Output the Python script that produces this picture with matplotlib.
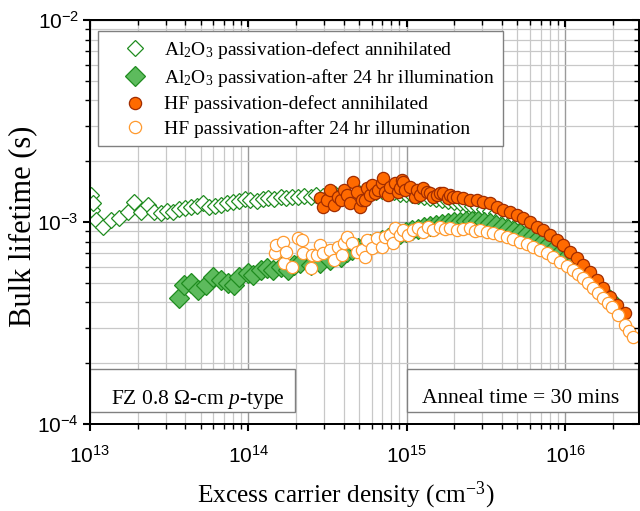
import numpy as np
import matplotlib
matplotlib.use('Agg')
import matplotlib.pyplot as plt
from matplotlib.patches import Rectangle

plt.rcParams['font.family'] = 'Liberation Serif'
plt.rcParams['mathtext.fontset'] = 'custom'
plt.rcParams['mathtext.rm'] = 'Liberation Serif'
plt.rcParams['mathtext.it'] = 'Liberation Serif:italic'
plt.rcParams['axes.unicode_minus'] = False

# --- data (x: excess carrier density cm^-3, tau: bulk lifetime in ms) ---
al_ann_x = [1.015e13, 1.03e13, 1.045e13, 1.09e13, 1.21e13, 1.36e13, 1.52e13, 1.74e13, 1.89e13, 2.10e13,
            2.32e13, 2.53e13,
            2.80e13, 3.06e13, 3.33e13, 3.64e13, 3.97e13, 4.33e13, 4.72e13, 5.15e13, 5.62e13, 6.13e13,
            6.69e13, 7.30e13, 7.96e13, 8.69e13, 9.48e13, 1.03e14, 1.13e14, 1.23e14, 1.34e14, 1.46e14,
            1.60e14, 1.74e14, 1.90e14, 2.07e14, 2.26e14, 2.47e14, 2.69e14, 2.94e14, 3.21e14, 3.50e14,
            3.82e14, 4.16e14, 4.54e14, 4.95e14, 5.40e14, 5.90e14, 6.44e14, 7.02e14, 7.66e14, 8.36e14,
            9.12e14, 9.95e14, 1.08e15, 1.18e15, 1.29e15, 1.41e15, 1.54e15, 1.68e15, 1.83e15, 2.00e15,
            2.18e15, 2.38e15, 2.59e15, 2.83e15, 3.08e15, 3.36e15, 3.67e15, 4.00e15, 4.37e15, 4.76e15,
            5.20e15, 5.67e15, 6.18e15, 6.75e15, 7.36e15, 8.03e15, 8.76e15, 9.56e15, 1.04e16, 1.14e16,
            1.24e16, 1.35e16, 1.48e16, 1.61e16, 1.76e16, 1.92e16]
al_ann_tau = [1.36, 1.146, 1.242, 1.023, 0.945, 1.023, 1.047, 1.121, 1.256, 1.121,
              1.214, 1.121,
              1.108, 1.134, 1.121, 1.160, 1.173, 1.186, 1.200, 1.242, 1.186, 1.200,
              1.214, 1.242, 1.256, 1.270, 1.300, 1.285, 1.270, 1.300, 1.315, 1.300,
              1.330, 1.315, 1.330, 1.330, 1.345, 1.330, 1.360, 1.345, 1.360, 1.376,
              1.376, 1.392, 1.392, 1.408, 1.408, 1.408, 1.408, 1.424, 1.408, 1.408,
              1.376, 1.376, 1.360, 1.345, 1.330, 1.315, 1.300, 1.285, 1.270, 1.256,
              1.242, 1.228, 1.200, 1.186, 1.160, 1.134, 1.108, 1.083, 1.059, 1.035,
              1.011, 0.977, 0.934, 0.883, 0.843, 0.796, 0.760, 0.718, 0.679, 0.634,
              0.592, 0.553, 0.516, 0.477, 0.440, 0.411]

al_ill_x = [3.64e13, 3.91e13, 4.33e13, 4.79e13, 5.38e13, 5.96e13, 6.69e13, 7.41e13, 8.08e13, 8.69e13,
            9.90e13, 1.076e14, 1.197e14, 1.32e14, 1.44e14, 1.60e14, 1.77e14, 1.93e14, 2.13e14, 2.47e14,
            2.85e14, 3.30e14, 3.82e14, 4.22e14, 4.54e14, 4.95e14, 5.40e14, 5.90e14, 6.44e14, 7.02e14,
            7.66e14, 8.36e14, 9.12e14, 9.95e14, 1.08e15, 1.18e15, 1.29e15, 1.41e15, 1.54e15, 1.68e15,
            1.83e15, 2.00e15, 2.18e15, 2.38e15, 2.59e15, 2.83e15, 3.08e15, 3.36e15, 3.67e15, 4.00e15,
            4.37e15, 4.76e15, 5.20e15, 5.67e15, 6.18e15, 6.75e15, 7.36e15, 8.03e15, 8.76e15, 9.56e15,
            1.04e16, 1.14e16, 1.24e16, 1.35e16, 1.48e16, 1.61e16, 1.76e16, 1.92e16]
al_ill_tau = [0.421, 0.488, 0.499, 0.460, 0.488, 0.535, 0.516, 0.499, 0.488, 0.535,
              0.559, 0.547, 0.578, 0.592, 0.578, 0.598, 0.578, 0.612, 0.627, 0.612,
              0.627, 0.649, 0.671, 0.710, 0.726, 0.743, 0.760, 0.778, 0.796, 0.814,
              0.833, 0.852, 0.873, 0.892, 0.913, 0.923, 0.945, 0.955, 0.966, 0.977,
              0.989, 1.000, 1.000, 1.011, 1.011, 1.011, 1.000, 0.989, 0.966, 0.945,
              0.923, 0.902, 0.882, 0.863, 0.843, 0.824, 0.805, 0.787, 0.752, 0.718,
              0.679, 0.634, 0.592, 0.553, 0.516, 0.477, 0.440, 0.411]

hf_ann_x = [2.85e14, 2.98e14, 3.16e14, 3.30e14, 3.45e14, 3.66e14, 3.82e14, 3.99e14, 4.22e14, 4.41e14,
            4.61e14, 4.88e14, 5.10e14, 5.25e14, 5.48e14, 5.64e14, 5.90e14, 6.07e14, 6.34e14, 6.63e14,
            7.02e14, 7.12e14, 7.33e14, 7.66e14, 7.89e14, 8.48e14, 8.86e14, 9.12e14, 9.39e14, 9.53e14,
            9.81e14, 1.054e15, 1.13e15, 1.16e15, 1.21e15, 1.27e15, 1.35e15, 1.41e15, 1.47e15, 1.56e15,
            1.63e15, 1.70e15, 1.81e15, 1.88e15, 1.97e15, 2.09e15, 2.28e15, 2.52e15, 2.78e15, 3.04e15,
            3.36e15, 3.72e15, 4.06e15, 4.50e15, 4.97e15, 5.43e15, 6.01e15, 6.64e15, 7.26e15, 8.03e15,
            8.89e15, 9.70e15, 1.07e16, 1.19e16, 1.30e16, 1.43e16, 1.59e16, 1.73e16, 1.92e16, 2.12e16,
            2.38e16]
hf_ann_tau = [1.315, 1.186, 1.285, 1.440, 1.214, 1.330, 1.285, 1.440, 1.360, 1.242,
              1.578, 1.408, 1.186, 1.285, 1.285, 1.473, 1.360, 1.524, 1.392, 1.440,
              1.560, 1.650, 1.408, 1.360, 1.490, 1.560, 1.408, 1.473, 1.614, 1.578,
              1.440, 1.490, 1.330, 1.440, 1.360, 1.473, 1.408, 1.392, 1.330, 1.360,
              1.392, 1.392, 1.315, 1.360, 1.330, 1.330, 1.315, 1.285, 1.285, 1.256,
              1.242, 1.186, 1.146, 1.121, 1.083, 1.047, 1.000, 0.945, 0.913, 0.863,
              0.814, 0.769, 0.710, 0.664, 0.612, 0.565, 0.516, 0.471, 0.426, 0.388,
              0.355]

hf_ill_x = [1.48e14, 1.50e14, 1.65e14, 1.67e14, 1.72e14, 1.90e14, 2.07e14, 2.19e14, 2.22e14, 2.47e14,
            2.54e14, 2.73e14, 2.85e14, 2.98e14, 3.30e14, 3.45e14, 3.66e14, 3.93e14, 3.99e14, 4.22e14,
            4.54e14, 4.88e14, 5.25e14, 5.48e14, 5.64e14, 6.07e14, 6.53e14, 7.02e14, 7.33e14, 7.89e14,
            8.24e14, 8.48e14, 9.12e14, 9.53e14, 1.024e15, 1.10e15, 1.18e15, 1.27e15, 1.37e15, 1.47e15,
            1.63e15, 1.75e15, 1.88e15, 2.09e15, 2.28e15, 2.52e15, 2.71e15, 2.91e15, 3.22e15, 3.51e15,
            3.89e15, 4.30e15, 4.70e15, 5.20e15, 5.75e15, 6.27e15, 6.95e15, 7.69e15, 8.39e15, 9.28e15,
            1.028e16, 1.12e16, 1.21e16, 1.30e16, 1.39e16, 1.50e16, 1.61e16, 1.73e16, 1.87e16, 1.98e16,
            2.15e16, 2.38e16, 2.53e16, 2.68e16]
hf_ill_tau = [0.702, 0.769, 0.796, 0.627, 0.710, 0.598, 0.833, 0.814, 0.702, 0.592,
              0.687, 0.687, 0.769, 0.702, 0.726, 0.649, 0.752, 0.687, 0.787, 0.843,
              0.787, 0.710, 0.726, 0.671, 0.814, 0.743, 0.833, 0.752, 0.843, 0.863,
              0.787, 0.934, 0.863, 0.913, 0.863, 0.913, 0.934, 0.892, 0.945, 0.913,
              0.945, 0.923, 0.934, 0.913, 0.923, 0.934, 0.902, 0.913, 0.892, 0.883,
              0.863, 0.843, 0.824, 0.796, 0.778, 0.752, 0.726, 0.702, 0.671, 0.634,
              0.605, 0.578, 0.553, 0.528, 0.499, 0.471, 0.445, 0.421, 0.397, 0.379,
              0.347, 0.309, 0.288, 0.270]

labels = [r'Al$_2$O$_3$ passivation-defect annihilated',
          r'Al$_2$O$_3$ passivation-after 24 hr illumination',
          'HF passivation-defect annihilated',
          'HF passivation-after 24 hr illumination']

green = '#1f8c1f'
orange = '#ff6a00'
light_orange = '#ff9a2e'

fig = plt.figure(figsize=(6.4, 5.11), dpi=100)
ax = fig.add_axes([90/640, 87/511, 549/640, 404/511])

ax.plot(al_ann_x, np.array(al_ann_tau)*1e-3, 'D', ms=8.6, mfc='white', mec=green, mew=0.9,
        ls='none', label=labels[0], zorder=3)
ax.plot(al_ill_x, np.array(al_ill_tau)*1e-3, 'D', ms=10.0, mfc='#5dbb5d', mec=green, mew=0.9,
        ls='none', label=labels[1], zorder=4)
ax.plot(hf_ann_x, np.array(hf_ann_tau)*1e-3, 'o', ms=8.8, mfc=orange, mec='#a02c00', mew=0.9,
        ls='none', label=labels[2], zorder=5)
ax.plot(hf_ill_x, np.array(hf_ill_tau)*1e-3, 'o', ms=8.8, mfc='white', mec=light_orange, mew=0.9,
        ls='none', label=labels[3], zorder=6)

ax.set_xscale('log')
ax.set_yscale('log')
ax.set_xlim(1e13, 2.93e16)
ax.set_ylim(1e-4, 1e-2)

ax.grid(which='major', color='#9a9a9a', lw=1.0)
ax.grid(which='minor', color='#c8c8c8', lw=0.9)
ax.set_axisbelow(True)

ax.tick_params(which='both', direction='out', top=False, right=False,
               labelsize=15, labelfontfamily='Liberation Sans')
ax.tick_params(axis='x', which='both', pad=10)
ax.tick_params(axis='y', which='both', pad=3)
ax.tick_params(which='major', length=5, width=1.5)
ax.tick_params(which='minor', length=3.5, width=1.0)

# top and right ticks point inward
axt = ax.twiny()
axt.set_xscale('log')
axt.set_xlim(ax.get_xlim())
axt.tick_params(which='both', direction='in', labeltop=False)
axt.tick_params(which='major', length=5, width=1.5)
axt.tick_params(which='minor', length=3.5, width=1.0)
axr = ax.twinx()
axr.set_yscale('log')
axr.set_ylim(ax.get_ylim())
axr.tick_params(which='both', direction='in', labelright=False)
axr.tick_params(which='major', length=5, width=1.5)
axr.tick_params(which='minor', length=3.5, width=1.0)
for a in (ax, axt, axr):
    for s in a.spines.values():
        s.set_linewidth(1.3)

ax.set_xlabel('Excess carrier density (cm$^{-3}$)', fontsize=18.3)
ax.xaxis.set_label_coords(255.5/549, -56/404)
ax.set_ylabel('Bulk lifetime (s)', fontsize=22)
ax.yaxis.set_label_coords(-53/549, 0.489)

leg = ax.legend(loc='upper left', bbox_to_anchor=(8/549, 393/404), borderaxespad=0,
                fontsize=14, fancybox=False, edgecolor='#808080', framealpha=1,
                borderpad=0.4, handlelength=3.0, handletextpad=0.0, labelspacing=0.33,
                numpoints=1)
leg.get_frame().set_linewidth(1.0)
leg.set_zorder(20)

ax.add_patch(Rectangle((0, 12/404), 205/549, 43/404, transform=ax.transAxes,
                       fc='white', ec='#808080', lw=1.0, zorder=10))
ax.text(0.196, 0.05, 'FZ 0.8 Ω-cm $p$-type', transform=ax.transAxes,
        ha='center', va='baseline', fontsize=15.5, zorder=11)
ax.add_patch(Rectangle((317/549, 12/404), 231/549, 43/404, transform=ax.transAxes,
                       fc='white', ec='#808080', lw=1.0, zorder=10))
ax.text(0.784, 0.052, 'Anneal time = 30 mins', transform=ax.transAxes,
        ha='center', va='baseline', fontsize=15.5, zorder=11)

fig.savefig('out.png', dpi=100)
